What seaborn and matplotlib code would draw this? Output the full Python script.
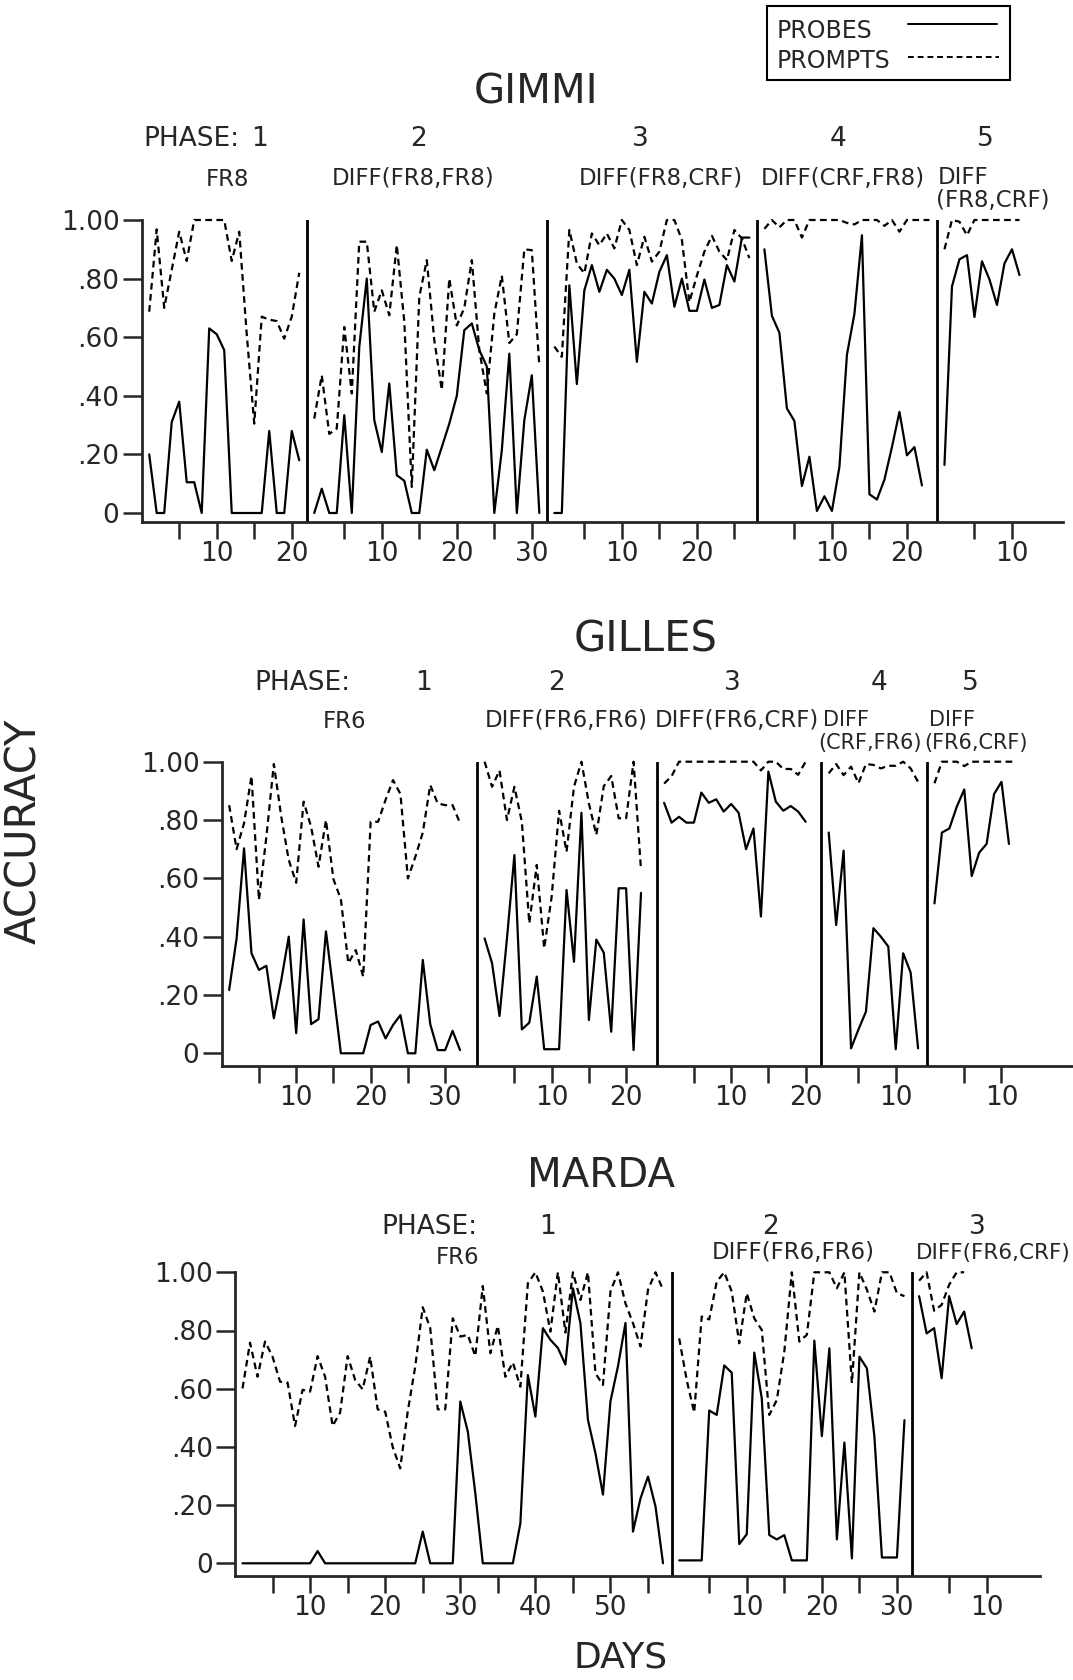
import matplotlib
matplotlib.use("Agg")
import matplotlib.pyplot as plt
from matplotlib.lines import Line2D
from matplotlib.patches import Rectangle
import pandas as pd
import seaborn as sns

# accuracy per day (probes = solid, prompts = dashed)
gimmi_p1_probes = [0.20, 0, 0, 0.31, 0.38, 0.105, 0.105, 0, 0.63, 0.61, 0.556, 0, 0, 0, 0, 0, 0.28, 0, 0, 0.28, 0.18]
gimmi_p1_prompts = [0.687, 0.968, 0.70, 0.83, 0.96, 0.86, 1.0, 1.0, 1.0, 1.0, 1.0, 0.86, 0.96, 0.61, 0.305, 0.67, 0.66, 0.655, 0.595, 0.67, 0.82]
gimmi_p2_probes = [0, 0.083, 0, 0, 0.334, 0, 0.567, 0.80, 0.317, 0.208, 0.442, 0.129, 0.11, 0, 0, 0.216, 0.146, 0.225, 0.305, 0.40,
                   0.624, 0.647, 0.556, 0.50, 0, 0.214, 0.544, 0, 0.317, 0.47, 0]
gimmi_p2_prompts = [0.322, 0.47, 0.27, 0.288, 0.635, 0.408, 0.926, 0.926, 0.687, 0.76, 0.675, 0.915, 0.653, 0.089, 0.738, 0.863, 0.59, 0.42, 0.80, 0.64,
                    0.70, 0.863, 0.556, 0.408, 0.68, 0.81, 0.58, 0.61, 0.90, 0.897, 0.50]
gimmi_p3_probes = [0, 0, 0.777, 0.44, 0.76, 0.846, 0.755, 0.83, 0.80, 0.744, 0.83, 0.516, 0.755, 0.715, 0.823, 0.88, 0.704, 0.80, 0.69, 0.69,
                   0.797, 0.70, 0.71, 0.846, 0.79, 0.94, 0.94]
gimmi_p3_prompts = [0.568, 0.533, 0.966, 0.852, 0.818, 0.954, 0.914, 0.954, 0.903, 1.0, 0.966, 0.846, 0.943, 0.858, 0.892, 1.0, 1.0, 0.932, 0.72, 0.81,
                    0.892, 0.946, 0.892, 0.863, 0.966, 0.937, 0.87]
gimmi_p4_probes = [0.90, 0.673, 0.615, 0.357, 0.314, 0.092, 0.192, 0.007, 0.057, 0.007, 0.158, 0.54, 0.68, 0.948, 0.064, 0.046, 0.114, 0.225, 0.345, 0.197,
                   0.225, 0.094]
gimmi_p4_prompts = [0.97, 1.0, 0.975, 1.0, 1.0, 0.94, 1.0, 1.0, 1.0, 1.0, 1.0, 0.99, 0.985, 1.0, 1.0, 1.0, 0.98, 1.0, 0.96, 1.0,
                    1.0, 1.0, 1.0]
gimmi_p5_probes = [0.164, 0.773, 0.866, 0.88, 0.669, 0.859, 0.797, 0.71, 0.852, 0.90, 0.812]
gimmi_p5_prompts = [0.90, 1.0, 0.994, 0.948, 1.0, 1.0, 1.0, 1.0, 1.0, 1.0, 1.0]

gilles_p1_probes = [0.217, 0.394, 0.703, 0.343, 0.286, 0.30, 0.12, 0.251, 0.40, 0.069, 0.459, 0.10, 0.117, 0.418, 0.211, 0, 0, 0, 0, 0.097,
                    0.109, 0.051, 0.097, 0.131, 0, 0, 0.32, 0.10, 0.011, 0.011, 0.077, 0.011]
gilles_p1_prompts = [0.851, 0.70, 0.789, 0.951, 0.526, 0.743, 0.992, 0.811, 0.663, 0.585, 0.863, 0.777, 0.64, 0.80, 0.597, 0.528, 0.309, 0.354, 0.263, 0.794,
                     0.794, 0.869, 0.937, 0.889, 0.60, 0.674, 0.757, 0.92, 0.857, 0.851, 0.851, 0.789]
gilles_p2_probes = [0.394, 0.309, 0.128, 0.394, 0.68, 0.082, 0.105, 0.263, 0.014, 0.014, 0.014, 0.56, 0.314, 0.825, 0.114, 0.39, 0.345, 0.074, 0.566, 0.566,
                    0.011, 0.55]
gilles_p2_prompts = [1.0, 0.914, 0.97, 0.80, 0.914, 0.794, 0.446, 0.646, 0.36, 0.537, 0.832, 0.691, 0.914, 1.0, 0.857, 0.749, 0.916, 0.951, 0.806, 0.806,
                     1.0, 0.629]
gilles_p3_probes = [0.859, 0.791, 0.811, 0.791, 0.791, 0.894, 0.859, 0.871, 0.829, 0.855, 0.825, 0.70, 0.771, 0.469, 0.966, 0.863, 0.832, 0.848, 0.829, 0.794]
gilles_p3_prompts = [0.925, 0.95, 1.0, 1.0, 1.0, 1.0, 1.0, 1.0, 1.0, 1.0, 1.0, 1.0, 1.0, 0.97, 1.0, 1.0, 0.975, 0.975, 0.955, 1.0]
gilles_p4_probes = [0.757, 0.44, 0.695, 0.017, 0.082, 0.143, 0.429, 0.40, 0.366, 0.014, 0.343, 0.277, 0.017]
gilles_p4_prompts = [0.96, 0.992, 0.954, 0.983, 0.926, 0.992, 0.989, 0.977, 0.986, 0.986, 1.0, 0.977, 0.931]
gilles_p5_probes = [0.514, 0.757, 0.771, 0.846, 0.905, 0.608, 0.688, 0.718, 0.889, 0.931, 0.718]
gilles_p5_prompts = [0.926, 1.0, 1.0, 1.0, 0.985, 1.0, 1.0, 1.0, 1.0, 1.0, 1.0, 1.0]

marda_p1_probes = [0, 0, 0, 0, 0, 0, 0, 0, 0, 0, 0.042, 0, 0, 0, 0, 0, 0, 0, 0, 0,
                   0, 0, 0, 0, 0.109, 0, 0, 0, 0, 0.556, 0.453, 0.241, 0, 0, 0, 0, 0, 0.137, 0.647, 0.504,
                   0.808, 0.768, 0.74, 0.683, 0.945, 0.825, 0.493, 0.378, 0.236, 0.557, 0.677, 0.826, 0.109, 0.223, 0.298, 0.195, 0]
marda_p1_prompts = [0.601, 0.758, 0.641, 0.762, 0.71, 0.624, 0.621, 0.472, 0.596, 0.59, 0.712, 0.641, 0.472, 0.518, 0.712, 0.63, 0.598, 0.71, 0.529, 0.521,
                    0.40, 0.326, 0.521, 0.676, 0.88, 0.808, 0.529, 0.529, 0.842, 0.779, 0.785, 0.712, 0.953, 0.722, 0.816, 0.641, 0.69, 0.607, 0.962, 1.0,
                    0.934, 0.796, 1.0, 0.793, 1.0, 0.905, 1.0, 0.653, 0.613, 0.934, 1.0, 0.893, 0.825, 0.745, 0.94, 1.0, 0.94]
marda_p2_probes = [0.01, 0.01, 0.01, 0.01, 0.525, 0.51, 0.68, 0.655, 0.066, 0.10, 0.724, 0.567, 0.097, 0.082, 0.097, 0.01, 0.01, 0.01, 0.765, 0.437,
                   0.739, 0.082, 0.415, 0.017, 0.71, 0.67, 0.435, 0.02, 0.02, 0.02, 0.492]
marda_p2_prompts = [0.773, 0.63, 0.518, 0.848, 0.838, 0.968, 1.0, 0.934, 0.756, 0.928, 0.842, 0.802, 0.51, 0.561, 0.727, 1.0, 0.762, 0.785, 1.0, 1.0,
                    1.0, 0.945, 1.0, 0.619, 1.0, 0.94, 0.865, 1.0, 1.0, 0.928, 0.918]
marda_p3_probes = [0.918, 0.79, 0.808, 0.636, 0.918, 0.822, 0.865, 0.739]
marda_p3_prompts = [0.971, 1.0, 0.868, 0.888, 0.957, 1.0, 1.0]

# last tick (in days) shown under each phase
gimmi_tick_max = [20, 30, 25, 20, 10]
gilles_tick_max = [30, 20, 20, 10, 10]
marda_tick_max = [55, 30, 10]

ytick_values = [0, 0.2, 0.4, 0.6, 0.8, 1.0]
ytick_labels = ["0", ".20", ".40", ".60", ".80", "1.00"]

sns.set_style("ticks")
plt.rcParams["font.family"] = ["DejaVu Sans"]

W, H = 1073, 1680
fig = plt.figure(figsize=(W / 100, H / 100), dpi=100)


def fx(px):
    return px / W


def fy(py):
    return 1 - py / H


def draw_panel(box, starts, xmax, phases, tick_max):
    left, right, top, zero, base = box
    ax = fig.add_axes([fx(left), fy(base), (right - left) / W, (base - top) / H])

    rows = []
    for k, (probes, prompts) in enumerate(phases):
        for name, vals in (("PROBES", probes), ("PROMPTS", prompts)):
            for day, v in enumerate(vals, start=1):
                rows.append((starts[k] + day, v, name, k))
    df = pd.DataFrame(rows, columns=["x", "accuracy", "measure", "phase"])

    sns.lineplot(data=df, x="x", y="accuracy", style="measure", units="phase",
                 estimator=None, sort=False, color="black",
                 dashes={"PROBES": "", "PROMPTS": (3, 2)},
                 linewidth=1.6, legend=False, ax=ax)
    for line in ax.lines:
        line.set_clip_on(False)

    for s in starts[1:]:
        ax.axvline(s, color="black", lw=2)

    ticks, labels = [], []
    for s, tmax in zip(starts, tick_max):
        for d in range(5, tmax + 1, 5):
            ticks.append(s + d)
            labels.append(str(d) if d % 10 == 0 else "")
    ax.set_xticks(ticks, labels)
    ax.set_yticks(ytick_values, ytick_labels)
    ax.set_xlim(0, xmax)
    ax.set_ylim(-(base - zero) / (zero - top), 1.0)
    ax.set_xlabel("")
    ax.set_ylabel("")

    sns.despine(ax=ax)
    ax.spines[["left", "bottom"]].set_linewidth(2)
    ax.tick_params(axis="x", direction="out", length=12, width=1.8, labelsize=19, pad=2)
    ax.tick_params(axis="y", direction="out", length=14, width=1.8, labelsize=19, pad=2)
    return ax


draw_panel((141.7, 1063, 220, 513, 522), [0, 22, 54, 82, 106], 122.8,
           [(gimmi_p1_probes, gimmi_p1_prompts), (gimmi_p2_probes, gimmi_p2_prompts),
            (gimmi_p3_probes, gimmi_p3_prompts), (gimmi_p4_probes, gimmi_p4_prompts),
            (gimmi_p5_probes, gimmi_p5_prompts)], gimmi_tick_max)

draw_panel((221.7, 1073, 761.7, 1053.3, 1065.7), [0, 34.3, 58.4, 80.5, 94.7], 114.3,
           [(gilles_p1_probes, gilles_p1_prompts), (gilles_p2_probes, gilles_p2_prompts),
            (gilles_p3_probes, gilles_p3_prompts), (gilles_p4_probes, gilles_p4_prompts),
            (gilles_p5_probes, gilles_p5_prompts)], gilles_tick_max)

draw_panel((235, 1040, 1272.3, 1563.3, 1576), [0, 58.15, 90.1], 107.2,
           [(marda_p1_probes, marda_p1_prompts), (marda_p2_probes, marda_p2_prompts),
            (marda_p3_probes, marda_p3_prompts)], marda_tick_max)


def label(s, x, y, size, ha="center", **kw):
    fig.text(fx(x), fy(y), s, ha=ha, va="center", fontsize=size, **kw)


# subject names and phase headers
label("GIMMI", 536, 92, 29)
label("PHASE:", 143, 139, 19, ha="left")
for s, x in zip(["1", "2", "3", "4", "5"], [259, 418, 640, 838, 985]):
    label(s, x, 139, 19)
label("FR8", 228, 179, 16.5)
label("DIFF(FR8,FR8)", 413, 179, 16.5)
label("DIFF(FR8,CRF)", 661, 178, 16.5)
label("DIFF(CRF,FR8)", 843, 178, 16.5)
label("DIFF", 938, 177, 16.5, ha="left")
label("(FR8,CRF)", 936, 200, 16.5, ha="left")

label("GILLES", 646, 640, 30)
label("PHASE:", 254, 683, 19, ha="left")
for s, x in zip(["1", "2", "3", "4", "5"], [423, 557, 732, 879, 970]):
    label(s, x, 683, 19)
label("FR6", 345, 721, 16.5)
label("DIFF(FR6,FR6)", 566, 720, 16.5)
label("DIFF(FR6,CRF)", 737, 720, 16.5)
label("DIFF", 823, 720, 15, ha="left")
label("(CRF,FR6)", 818, 743, 15, ha="left")
label("DIFF", 929, 720, 15, ha="left")
label("(FR6,CRF)", 924, 743, 15, ha="left")

label("MARDA", 601, 1176, 29)
label("PHASE:", 381, 1227, 19, ha="left")
for s, x in zip(["1", "2", "3"], [547, 770, 977]):
    label(s, x, 1227, 19)
label("FR6", 458, 1258, 16.5)
label("DIFF(FR6,FR6)", 793, 1253, 16.5)
label("DIFF(FR6,CRF)", 1071, 1253, 15.5, ha="right")

label("ACCURACY", 24, 831, 30, rotation=90)
label("DAYS", 621, 1658, 26)

# legend box, drawn by hand so the labels sit left of their line samples
fig.add_artist(Rectangle((fx(767), fy(80)), (1010 - 767) / W, 74 / H,
                         transform=fig.transFigure, fill=False, lw=1.5, color="black"))
label("PROBES", 777, 31, 17, ha="left")
label("PROMPTS", 777, 61, 17, ha="left")
fig.add_artist(Line2D([fx(908), fx(997)], [fy(24), fy(24)], transform=fig.transFigure,
                      color="black", lw=1.4))
fig.add_artist(Line2D([fx(908), fx(999)], [fy(57), fy(57)], transform=fig.transFigure,
                      color="black", lw=1.4, dashes=(3, 2)))

fig.savefig("out.png", dpi=100)
